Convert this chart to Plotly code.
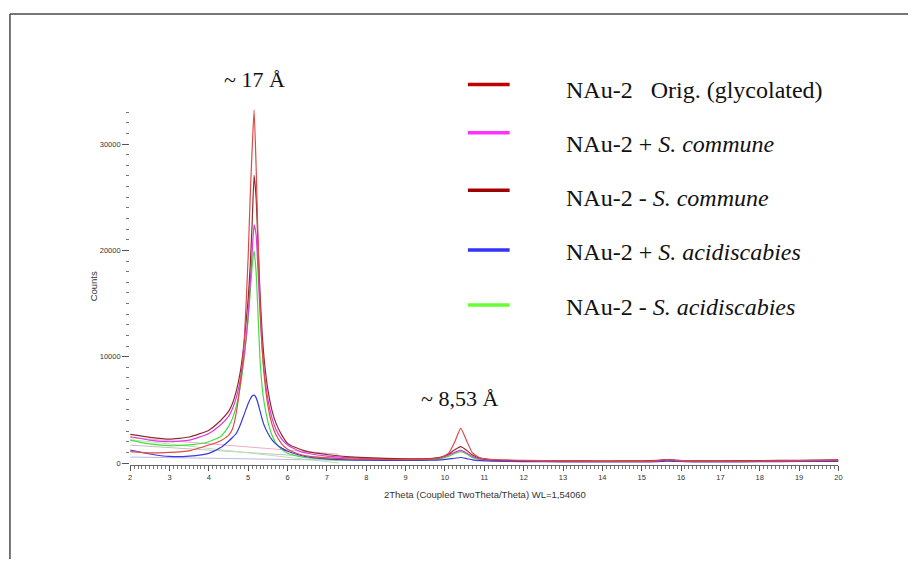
import plotly.graph_objects as go

# 2-theta sample positions (degrees)
two_theta = [2.0, 2.5, 3.0, 3.5, 4.0, 4.3, 4.5, 4.6, 4.7, 4.8, 4.9, 5.0, 5.05, 5.1,
             5.15, 5.2, 5.25, 5.3, 5.35, 5.4, 5.5, 5.6, 5.7, 5.85, 6.0, 6.3, 6.6,
             7.0, 7.5, 8.0, 9.0, 9.6, 9.9, 10.1, 10.25, 10.4, 10.55, 10.7, 10.9,
             11.2, 12.0, 13.0, 14.0, 15.0, 15.4, 15.65, 15.9, 16.3, 17.0, 18.0,
             19.0, 20.0]

# Counts for each sample
orig_glycolated = [1070, 950, 1000, 1150, 1690, 2100, 2600, 3200, 4800, 7500, 11500,
                   19500, 25000, 29500, 33200, 28000, 21000, 15000, 11200, 8500, 5400,
                   3700, 2700, 1800, 1300, 820, 600, 480, 400, 350, 320, 360, 520, 950,
                   2000, 3250, 2100, 950, 480, 330, 250, 200, 170, 160, 230, 330, 250,
                   170, 170, 190, 220, 250]
plus_s_commune = [2470, 2150, 2000, 2150, 2780, 3600, 4380, 5100, 6200, 7800, 10200,
                  14000, 16800, 19800, 22400, 21500, 18000, 14200, 11000, 8800, 6000,
                  4300, 3200, 2250, 1700, 1120, 850, 650, 500, 420, 360, 380, 500, 750,
                  1000, 1220, 950, 600, 380, 270, 210, 180, 160, 160, 210, 290, 230,
                  170, 170, 190, 220, 250]
minus_s_commune = [2690, 2420, 2250, 2450, 3090, 4000, 4850, 5600, 6800, 8600, 11500,
                   15500, 18500, 22500, 27060, 25000, 20500, 16000, 12500, 10000, 6900,
                   5000, 3800, 2650, 1850, 1320, 1000, 800, 600, 500, 400, 420, 560, 850,
                   1250, 1540, 1200, 750, 450, 300, 230, 200, 190, 200, 250, 320, 260,
                   200, 210, 230, 260, 290]
plus_s_acidiscabies = [1220, 850, 620, 650, 910, 1450, 2050, 2400, 2800, 3600, 4600,
                       5600, 6000, 6300, 6390, 6150, 5600, 4900, 4200, 3600, 2800, 2200,
                       1800, 1400, 1100, 750, 520, 380, 300, 260, 250, 260, 300, 380,
                       450, 520, 420, 300, 220, 170, 130, 110, 100, 100, 130, 170, 140,
                       110, 110, 120, 140, 160]
minus_s_acidiscabies = [2160, 1800, 1630, 1700, 2000, 2500, 3440, 4200, 5400, 7200,
                        10000, 13500, 16000, 18500, 19960, 18000, 14000, 9800, 7300,
                        5800, 3900, 2650, 1900, 1280, 920, 610, 450, 350, 300, 280, 270,
                        300, 420, 650, 900, 1070, 850, 500, 320, 230, 180, 160, 150, 150,
                        200, 270, 210, 160, 160, 180, 210, 240]

# Straight fitted backgrounds under the low-angle peak (start, end)
bg_x = [2.0, 7.3]
bg_pink = [2400, 830]
bg_gray = [1680, 450]
bg_green = [2200, 0]
bg_lavender = [560, 260]

legend_labels = [
    "NAu-2   Orig. (glycolated)",
    "NAu-2 + <i>S. commune</i>",
    "NAu-2 - <i>S. commune</i>",
    "NAu-2 + <i>S. acidiscabies</i>",
    "NAu-2 - <i>S. acidiscabies</i>",
]
legend_colors = ["#c00000", "#ff33ff", "#a00000", "#3333ff", "#66ff33"]

peak_labels = ["~ 17 Å", "~ 8,53 Å"]

W, H = 912, 561


def px(xp):
    return xp / W


def py(yp):
    return 1 - yp / H


fig = go.Figure()

for ys, col in [(bg_pink, "#e8b0c8"), (bg_gray, "#c8c0c0"),
                (bg_green, "#b4e6ac"), (bg_lavender, "#b8b8ea")]:
    fig.add_trace(go.Scatter(x=bg_x, y=ys, mode="lines",
                             line=dict(color=col, width=1), hoverinfo="skip"))

series = [
    (minus_s_acidiscabies, "#3ee03e"),
    (plus_s_acidiscabies, "#3a3ad8"),
    (plus_s_commune, "#dc3cdc"),
    (minus_s_commune, "#8c2e2e"),
    (orig_glycolated, "#e04848"),
]
for ys, col in series:
    fig.add_trace(go.Scatter(x=two_theta, y=ys, mode="lines",
                             line=dict(color=col, width=1.2, shape="spline",
                                       smoothing=0.5),
                             hoverinfo="skip"))

x0_px, x1_px = 129, 842
ybot_px, ytop_px = 466.8, 108

fig.update_layout(
    width=W, height=H,
    margin=dict(l=0, r=0, t=0, b=0),
    paper_bgcolor="white", plot_bgcolor="white",
    showlegend=False,
    xaxis=dict(
        domain=[px(x0_px), px(x1_px)], range=[2, 20],
        dtick=1, tick0=0, ticks="outside", ticklen=5, tickwidth=1,
        tickcolor="#555", showline=True, linecolor="#666", linewidth=1,
        showgrid=False, zeroline=False,
        tickfont=dict(family="Liberation Sans", size=7.5, color="#333"),
        minor=dict(dtick=0.1, ticks="outside", ticklen=2.5, tickcolor="#777",
                   showgrid=False),
    ),
    yaxis=dict(
        domain=[py(ybot_px), py(ytop_px)], range=[-200, 33430],
        tickvals=[0, 10000, 20000, 30000], tickformat="d",
        ticks="outside", ticklen=7,
        tickwidth=1, tickcolor="#555", showline=False, showgrid=False,
        zeroline=False,
        tickfont=dict(family="Liberation Sans", size=7.5, color="#333"),
        minor=dict(dtick=1000, tick0=0, ticks="outside", ticklen=3,
                   tickcolor="#777", showgrid=False),
    ),
)

annotations = [
    dict(x=px(486), y=py(496.5), text="2Theta (Coupled TwoTheta/Theta) WL=1,54060",
         font=dict(family="Liberation Sans", size=9.5, color="#333")),
    dict(x=px(93), y=py(287), text="Counts", textangle=-90,
         font=dict(family="Liberation Sans", size=9.5, color="#333")),
    dict(x=px(254), y=py(80), text=peak_labels[0],
         font=dict(family="Liberation Serif", size=22, color="#111")),
    dict(x=px(461), y=py(400), text=peak_labels[1],
         font=dict(family="Liberation Serif", size=22, color="#111")),
]

legend_line_y = [84.7, 133.3, 191, 251, 306]
legend_text_y = [90.7, 145, 198.3, 253.3, 308.3]
shapes = []
for lab, col, ly, ty in zip(legend_labels, legend_colors, legend_line_y, legend_text_y):
    shapes.append(dict(type="line", xref="paper", yref="paper",
                       x0=px(469), x1=px(511), y0=py(ly), y1=py(ly),
                       line=dict(color=col, width=3.5)))
    annotations.append(dict(x=px(566), y=py(ty), text=lab, xanchor="left",
                            font=dict(family="Liberation Serif", size=24,
                                      color="#111")))

for a in annotations:
    a.setdefault("xref", "paper")
    a.setdefault("yref", "paper")
    a.setdefault("showarrow", False)
    a.setdefault("xanchor", "center")
    a.setdefault("yanchor", "middle")

# slide frame: top rule and left rule
shapes.append(dict(type="line", xref="paper", yref="paper", x0=px(8), x1=1,
                   y0=py(14), y1=py(14), line=dict(color="#4a4a4a", width=1.5)))
shapes.append(dict(type="line", xref="paper", yref="paper", x0=px(8), x1=px(8),
                   y0=py(14), y1=0, line=dict(color="#4a4a4a", width=1.5)))

fig.update_layout(annotations=annotations, shapes=shapes)

fig.write_html("out.html")
